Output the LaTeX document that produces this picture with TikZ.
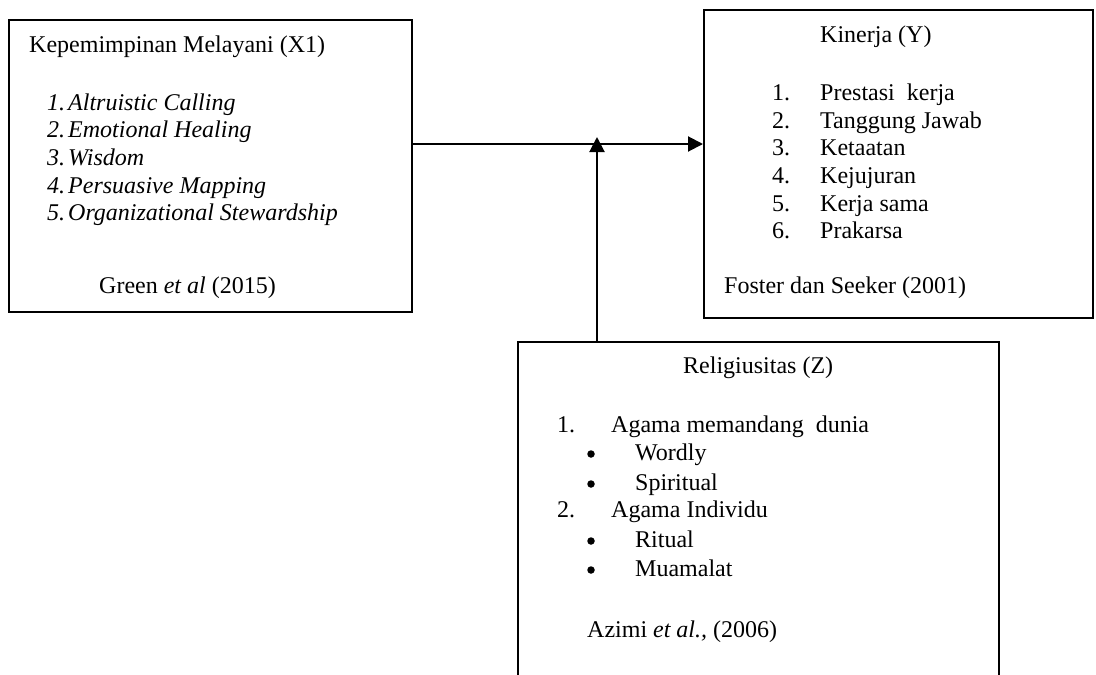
\documentclass[tikz,border=0pt]{standalone}
\usepackage{fontspec}
\setmainfont{Liberation Serif}
\usetikzlibrary{arrows.meta}
\begin{document}
\begin{tikzpicture}[x=1pt,y=-1pt,
  box/.style={draw,line width=1.8pt,anchor=north west,inner sep=0pt},
  txt/.style={anchor=base west,inner sep=0pt,font=\fontsize{24}{27}\selectfont},
  dot/.style={circle,fill,inner sep=0pt,minimum size=7.5pt},
  arr/.style={line width=2pt,-{Triangle[length=15pt,width=15pt]}}]
\clip (0,0) rectangle (1096,675);
\fill[white] (0,0) rectangle (1096,675);
% boxes
\node[box,minimum width=403pt,minimum height=292pt] (b1) at (8,19) {};
\node[box,minimum width=389pt,minimum height=308pt] (b2) at (703,9) {};
\node[box,minimum width=481pt,minimum height=360pt] (b3) at (517,341) {};
% box 1 text
\node[txt] (t1) at (29,52) {Kepemimpinan Melayani (X1)};
\node[txt] (a1) at (47,110) {\itshape 1.};
\node[txt] (a1t) at (68,110) {\itshape Altruistic Calling};
\node[txt] (a2) at (47,137) {\itshape 2.};
\node[txt] (a2t) at (68,137) {\itshape Emotional Healing};
\node[txt] (a3) at (47,165) {\itshape 3.};
\node[txt] (a3t) at (68,165) {\itshape Wisdom};
\node[txt] (a4) at (47,193) {\itshape 4.};
\node[txt] (a4t) at (68,193) {\itshape Persuasive Mapping};
\node[txt] (a5) at (47,220) {\itshape 5.};
\node[txt] (a5t) at (68,220) {\itshape Organizational Stewardship};
\node[txt] (s1) at (99,293) {Green \textit{et al} (2015)};
% box 2 text
\node[txt] (t2) at (820,42) {Kinerja (Y)};
\node[txt] (k1) at (772,100) {1.};
\node[txt] (k1t) at (820,100) {Prestasi\ \ kerja};
\node[txt] (k2) at (772,128) {2.};
\node[txt] (k2t) at (820,128) {Tanggung Jawab};
\node[txt] (k3) at (772,155) {3.};
\node[txt] (k3t) at (820,155) {Ketaatan};
\node[txt] (k4) at (772,183) {4.};
\node[txt] (k4t) at (820,183) {Kejujuran};
\node[txt] (k5) at (772,211) {5.};
\node[txt] (k5t) at (820,211) {Kerja sama};
\node[txt] (k6) at (772,238) {6.};
\node[txt] (k6t) at (820,238) {Prakarsa};
\node[txt] (s2) at (724,293) {Foster dan Seeker (2001)};
% box 3 text
\node[txt] (t3) at (683,373) {Religiusitas (Z)};
\node[txt] (r1) at (557,432) {1.};
\node[txt] (r1t) at (611,432) {Agama memandang\ \ dunia};
\node[dot] (r2) at (591,454) {};
\node[txt] (r2t) at (635,460) {Wordly};
\node[dot] (r3) at (591,484) {};
\node[txt] (r3t) at (635,490) {Spiritual};
\node[txt] (r4) at (557,517) {2.};
\node[txt] (r4t) at (611,517) {Agama Individu};
\node[dot] (r5) at (591,541) {};
\node[txt] (r5t) at (635,547) {Ritual};
\node[dot] (r6) at (591,570) {};
\node[txt] (r6t) at (635,576) {Muamalat};
\node[txt] (s3) at (587,637) {Azimi \textit{et al.,} (2006)};
% connectors
\coordinate (h) at (0,144);
\coordinate (v) at (597,137);
\draw[arr] (b1.east |- h) -- (b2.west |- h);
\draw[arr] (b3.north -| v) -- (v);
\end{tikzpicture}
\end{document}
